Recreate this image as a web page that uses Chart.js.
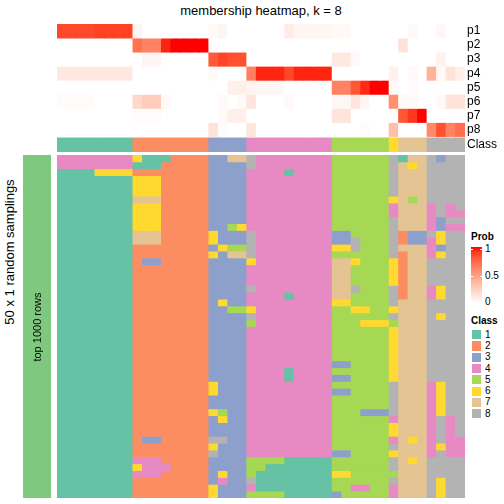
<!DOCTYPE html>
<html>
<head>
<meta charset="utf-8">
<title>membership heatmap, k = 8</title>
<script src="https://cdn.jsdelivr.net/npm/chart.js@4.4.1/dist/chart.umd.min.js"></script>
<style>
  body { margin: 0; background: #fff; }
  #wrap { position: relative; width: 504px; height: 504px; overflow: hidden;
          font-family: "Liberation Sans", Arial, sans-serif; color: #000; }
  #wrap canvas, .txt { position: absolute; }
  .txt { white-space: nowrap; }
  .rot { transform: rotate(-90deg); text-align: center; }
</style>
</head>
<body>
<div id="wrap">
  <div class="txt" style="left:57px;top:4px;width:408px;text-align:center;font-size:13px;line-height:14px">membership heatmap, k = 8</div>
  <canvas id="topChart" width="447" height="128" style="left:57px;top:24px"></canvas>
  <canvas id="sideChart" width="28" height="343" style="left:23px;top:155px"></canvas>
  <canvas id="heatChart" width="408" height="343" style="left:57px;top:155px"></canvas>
  <div class="txt rot" style="left:-70px;top:244px;width:160px;height:16px;line-height:16px;font-size:13px">50 x 1 random samplings</div>
  <div class="txt rot" style="left:-13px;top:320px;width:100px;height:14px;line-height:14px;font-size:11px">top 1000 rows</div>
  <div id="legend"></div>
</div>
<script>
// colours of the classes (brewer Set2)
const classColors = ['#66C2A5', '#FC8D62', '#8DA0CB', '#E78AC3', '#A6D854', '#FFD92F', '#E5C494', '#B3B3B3'];
const classNames = ['1', '2', '3', '4', '5', '6', '7', '8'];
const rowNames = ['p1', 'p2', 'p3', 'p4', 'p5', 'p6', 'p7', 'p8', 'Class'];
const probTicks = ['1', '0.5', '0'];

// class of each column (43 columns)
const columnClass = '11111111 22222222 3333 444444444 555555 6 777 8888';

// membership probabilities, one array per class, one value per column
const p1 = [.87,.87,.87,.87,.89,.89,.89,.89,.05,0,0,0,0,0,0,0,.03,.05,0,0,0,0,0,0,.1,.05,.05,.05,.05,.03,.03,0,0,0,0,0,0,.03,0,0,.04,0,0];
const p2 = [0,0,0,0,0,0,0,0,.7,.63,.63,.96,1,1,1,1,0,0,0,0,0,0,0,0,0,0,0,0,0,0,0,0,0,0,0,0,.15,0,0,0,0,0,0];
const p3 = [0,0,0,0,0,0,0,0,0,.05,.05,0,0,0,0,0,.8,.88,.84,.84,0,0,0,0,0,0,0,0,0,.12,.12,.03,0,0,0,0,0,0,0,0,.07,0,0];
const p4 = [.12,.12,.12,.12,.12,.12,.12,.12,0,0,0,0,0,0,0,0,.03,0,0,0,.64,.96,.96,.96,.87,.96,.96,.96,.96,0,0,0,0,0,0,.07,0,.03,0,.4,.03,.15,.08];
const p5 = [0,0,0,0,0,0,0,0,0,0,0,0,0,0,0,0,0,0,.08,.08,.06,.04,.04,.04,0,0,0,0,0,.63,.63,.82,.95,1,1,.03,0,.02,0,0,0,0,0];
const p6 = [.02,.02,.02,.02,0,0,0,0,.2,.26,.26,.03,0,0,0,0,0,.03,0,.03,.13,0,0,0,.03,0,0,0,0,.04,.04,.13,.04,0,0,.57,.03,.03,0,0,.03,.15,.15];
const p7 = [0,0,0,0,0,0,0,0,.02,.02,.02,0,0,0,0,0,0,.03,.08,.08,0,0,0,0,0,0,0,0,0,.14,.14,0,0,0,0,0,.82,.92,1,0,0,0,0];
const p8 = [0,0,0,0,0,0,0,0,0,0,0,0,0,0,0,0,.15,.02,0,0,.13,0,0,0,0,0,0,0,0,0,0,0,.02,0,0,.33,0,0,0,.6,.84,.63,.72];
const probRows = [p1, p2, p3, p4, p5, p6, p7, p8];

// predicted class in each of the 50 random samplings (rows) for each column
const classRows = [
  '44444444 61112222 3377 8 44444444 555555 8 177 8388',
  '44444444 11122222 3333 8 44444444 555555 8 767 8888',
  '11116666 22222222 3333 4 44414444 555555 8 777 8888',
  '11111111 66622222 3333 4 44444444 555555 8 777 8888',
  '11111111 66622222 3333 4 44444444 555555 8 777 8888',
  '11111111 66622222 3333 4 44444444 555555 8 777 8888',
  '11111111 77722222 3333 4 44444444 555555 6 757 8888',
  '11111111 66622222 3333 4 44444444 555555 4 777 4848',
  '11111111 66622222 3333 4 44444444 555555 4 777 4844',
  '11111111 66622222 3333 4 44444444 555555 8 777 4388',
  '11111111 66622222 3356 4 44444444 555555 8 777 4344',
  '11111111 77722222 6333 8 44444444 335555 8 233 8688',
  '11111111 77722222 6333 8 44444444 338555 8 233 4688',
  '11111111 22222222 3655 8 44444444 668555 8 777 4388',
  '11111111 22222222 6377 8 44444444 555555 8 277 4688',
  '11111111 23322222 3333 6 44444444 776555 6 277 8888',
  '11111111 22222222 3333 4 44444444 775555 6 277 8888',
  '11111111 22222222 3333 4 44444444 775555 6 277 8888',
  '11111111 22222222 3333 4 44444444 775555 6 277 8888',
  '11111111 22222222 3333 8 44444444 778555 8 277 4688',
  '11111111 22222222 3333 4 44414444 775555 8 277 4688',
  '11111111 22222222 3633 4 44444444 665555 8 777 8888',
  '11111111 22222222 3355 6 44444444 556655 6 777 8888',
  '11111111 22222222 3333 8 44444444 555555 8 777 8688',
  '11111111 22222222 3333 5 44444444 555666 5 777 8888',
  '11111111 22222222 3333 4 44444444 555555 6 777 8888',
  '11111111 22222222 3333 4 44444444 555555 6 777 8888',
  '11111111 22222222 3333 4 44444444 555555 6 777 8888',
  '11111111 22222222 3333 4 44444444 555555 6 777 8888',
  '11111111 22222222 3333 4 44444444 555555 6 777 8888',
  '11111111 22222222 3333 4 44444444 335555 6 777 8888',
  '11111111 22222222 3333 4 44414444 555555 6 777 8888',
  '11111111 22222222 3333 4 44414444 335555 6 777 8888',
  '11111111 22222222 6333 4 44444444 555555 8 777 4688',
  '11111111 22222222 6333 4 44444444 335555 8 777 4688',
  '11111111 22222222 3333 4 44444444 555555 8 777 4688',
  '11111111 22222222 3333 4 44444444 555555 8 777 4688',
  '11111111 22222222 6533 4 44444444 555333 8 777 4688',
  '11111111 22222222 3633 4 44444444 555555 4 777 4848',
  '11111111 22222222 3333 4 44444444 555555 6 777 4848',
  '11111111 22222222 3333 4 44444444 555555 6 777 4848',
  '11111111 23322222 8833 4 44444444 555555 4 767 4844',
  '11111111 22222222 6333 4 44444444 555555 8 777 4644',
  '11111111 22222222 8333 4 44444444 335555 6 777 4844',
  '11111111 44422222 3333 5 55511111 555555 8 767 8888',
  '11111111 64442222 3333 5 51111111 555555 8 777 8888',
  '11111111 44422222 3633 5 11111111 665555 5 777 8888',
  '11111111 22222222 3433 8 11111111 555555 8 777 8688',
  '11111111 22222222 6333 4 11111111 554455 4 777 8688',
  '11111111 22222222 6333 5 55511111 355555 4 777 8688'
];

// white -> red ramp interpolated in LAB, like colorRamp2
function lab2rgb(L, a, b) {
  const fy = (L + 16) / 116, fx = fy + a / 500, fz = fy - b / 200;
  const f = t => t > 6 / 29 ? t * t * t : 3 * (6 / 29) * (6 / 29) * (t - 4 / 29);
  const X = 0.95047 * f(fx), Y = f(fy), Z = 1.08883 * f(fz);
  const lin = [
    3.2406 * X - 1.5372 * Y - 0.4986 * Z,
    -0.9689 * X + 1.8758 * Y + 0.0415 * Z,
    0.0557 * X - 0.2040 * Y + 1.0570 * Z
  ];
  const out = lin.map(c => {
    c = Math.min(1, Math.max(0, c));
    return Math.round(255 * (c <= 0.0031308 ? 12.92 * c : 1.055 * Math.pow(c, 1 / 2.4) - 0.055));
  });
  return `rgb(${out[0]},${out[1]},${out[2]})`;
}
function probColor(v) {
  return lab2rgb(100 + (53.24 - 100) * v, 80.09 * v, 67.22 * v);
}

Chart.defaults.font.family = '"Liberation Sans", Arial, sans-serif';
Chart.defaults.color = '#000';

const cols = columnClass.replace(/ /g, '').split('');
const xLabels = cols.map((_, i) => String(i + 1));
const cellStyle = { grouped: false, barPercentage: 1, categoryPercentage: 1, borderWidth: 0, inflateAmount: 0.4 };
const classBand = [8.1, 9.1];

const baseOptions = (yScale) => ({
  responsive: false,
  animation: false,
  layout: { padding: 0 },
  plugins: { legend: { display: false }, tooltip: { enabled: false }, title: { display: false } },
  scales: {
    x: { type: 'category', display: false },
    y: yScale
  }
});

// top annotation: probabilities + class row
const topSets = probRows.map((vals, r) => ({
  data: vals.map(() => [r, r + 1]),
  backgroundColor: vals.map(probColor),
  ...cellStyle
}));
topSets.push({
  data: cols.map(() => classBand),
  backgroundColor: cols.map(c => classColors[c - 1]),
  ...cellStyle
});
const rowCenters = probRows.map((_, r) => r + 0.5).concat([(classBand[0] + classBand[1]) / 2]);

new Chart(document.getElementById('topChart'), {
  type: 'bar',
  data: { labels: xLabels, datasets: topSets },
  options: baseOptions({
    type: 'linear', position: 'right', min: 0, max: classBand[1], reverse: true,
    grid: { display: false, drawTicks: false },
    border: { display: false },
    afterBuildTicks: scale => { scale.ticks = rowCenters.map(v => ({ value: v })); },
    afterFit: scale => { scale.width = 39; scale.paddingTop = 0; scale.paddingBottom = 0; },
    ticks: {
      autoSkip: false, padding: 2, font: { size: 12 },
      callback: (v, i) => rowNames[i]
    }
  })
});

// main heatmap: one dataset per sampling
const heatSets = classRows.map((row, r) => {
  const cells = row.replace(/ /g, '').split('');
  return {
    data: cells.map(() => [r, r + 1]),
    backgroundColor: cells.map(c => classColors[c - 1]),
    ...cellStyle
  };
});
new Chart(document.getElementById('heatChart'), {
  type: 'bar',
  data: { labels: xLabels, datasets: heatSets },
  options: baseOptions({ type: 'linear', min: 0, max: classRows.length, reverse: true, display: false })
});

// left row annotation strip
new Chart(document.getElementById('sideChart'), {
  type: 'bar',
  data: { labels: ['top 1000 rows'], datasets: [{ data: [[0, 1]], backgroundColor: '#7FC97F', ...cellStyle, inflateAmount: 0 }] },
  options: baseOptions({ type: 'linear', min: 0, max: 1, display: false })
});

// legends
const legend = document.getElementById('legend');
function addText(txt, left, cy, size, bold) {
  const d = document.createElement('div');
  d.className = 'txt';
  d.textContent = txt;
  d.style.cssText = `left:${left}px;top:${cy - 7}px;height:14px;line-height:14px;font-size:${size}px;` + (bold ? 'font-weight:bold;' : '');
  legend.appendChild(d);
}
addText('Prob', 471, 237, 10, true);
const stops = [];
for (let i = 0; i <= 10; i++) stops.push(`${probColor(1 - i / 10)} ${i * 10}%`);
const grad = document.createElement('div');
grad.className = 'txt';
grad.style.cssText = `left:471px;top:247px;width:11px;height:56px;background:linear-gradient(to bottom, ${stops.join(',')});`;
legend.appendChild(grad);
probTicks.forEach((t, i) => {
  const y = 249 + i * 26.7;
  ['471px', '480px'].forEach(x => {
    const tk = document.createElement('div');
    tk.className = 'txt';
    tk.style.cssText = `left:${x};top:${y}px;width:2px;height:1px;background:#fff;`;
    legend.appendChild(tk);
  });
  addText(t, 485, y, 10, false);
});
addText('Class', 471, 321, 10, true);
classNames.forEach((n, i) => {
  const top = 329 + i * 11.3;
  const sq = document.createElement('div');
  sq.className = 'txt';
  sq.style.cssText = `left:471px;top:${top}px;width:11px;height:11.3px;box-sizing:border-box;border:0.5px solid #fff;background:${classColors[i]};`;
  legend.appendChild(sq);
  addText(n, 485, top + 5.6, 10, false);
});
</script>
</body>
</html>
